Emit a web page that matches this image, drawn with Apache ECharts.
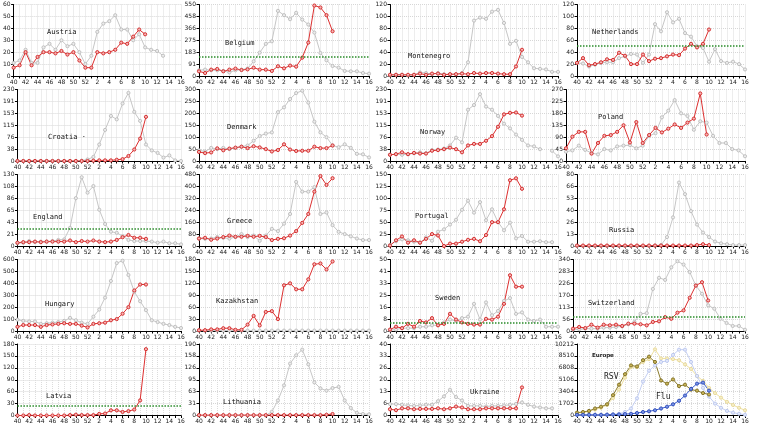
<!DOCTYPE html>
<html><head><meta charset="utf-8">
<script src="https://cdn.jsdelivr.net/npm/echarts@6/dist/echarts.min.js"></script>
<style>html,body{margin:0;padding:0;background:#fff}#c{width:760px;height:425px}</style>
</head><body><div id="c"></div>
<script>
const weeks = ['40','41','42','43','44','45','46','47','48','49','50','51','52','1','2','3','4','5','6','7','8','9','10','11','12','13','14','15','16'];

const austriaCur = [7,9,20,9,16,20,20,19,21,18,20,13,7, 7,20,19,20,22,28,27,33,39,35];
const austriaPrev = [11,13,22,11,11,24,27,22,30,25,27,20,10, 17,37,44,46,51,39,39,30,35,24,22,21,17];
const belgiumCur = [36,23,49,54,36,49,57,46,51,64,49,49,39, 75,59,80,72,141,257,542,527,468,344];
const belgiumPrev = [44,49,44,44,39,28,44,49,57,113,180,247,267, 501,468,437,486,434,396,334,177,121,77,64,39,36,36,23,18];
const montenegroCur = [2,2,2,2,2,4,2,4,4,2,3,3,4, 3,5,4,5,5,4,3,3,16,44];
const montenegroPrev = [1,2,2,1,2,6,5,3,5,3,3,3,5, 23,93,98,96,108,111,89,54,59,32,23,13,12,11,7,7];
const netherlandsCur = [22,30,18,20,23,28,27,39,34,20,20,36,25, 29,30,33,36,35,46,54,48,54,78];
const netherlandsPrev = [22,21,16,19,22,23,23,30,33,37,36,22,36, 87,75,107,90,96,72,66,50,47,24,45,25,22,24,20,11];
const croatiaCur = [0,0,0,0,0,0,0,0,0,0,0,0,0, 1,2,2,2,4,6,16,37,72,142];
const croatiaPrev = [0,0,0,0,0,0,0,0,0,0,0,1,5, 13,53,100,145,134,185,219,158,129,53,34,26,11,18,2,0];
const denmarkCur = [38,33,36,53,45,52,56,60,54,62,57,50,40, 46,70,48,42,43,43,60,54,54,65];
const denmarkPrev = [45,40,55,50,55,50,55,60,65,85,105,115,120, 205,225,260,285,295,245,165,120,100,65,58,70,55,30,28,15];
const norwayCur = [20,22,28,22,26,24,24,33,35,38,43,38,28, 50,55,55,65,80,110,150,155,156,146];
const norwayPrev = [20,22,20,22,25,28,25,35,37,40,50,75,60, 165,180,215,175,165,145,120,105,85,68,50,47,38,null,33,15];
const polandCur = [48,92,110,110,28,68,95,98,110,135,70,147,68, 98,125,108,122,138,125,145,160,255,100];
const polandPrev = [35,40,58,42,30,25,45,40,55,58,60,48,58, 95,105,165,190,230,180,170,118,150,145,95,68,68,45,40,18];
const englandCur = [6,7,7,8,7,8,8,8,8,10,7,9,8, 10,8,7,8,11,16,20,15,15,13];
const englandPrev = [5,6,9,7,8,8,9,11,12,33,87,125,97, 109,66,40,26,24,18,11,9,9,9,8,6,8,5,5,3];
const greeceCur = [50,55,42,50,60,70,62,62,68,62,68,60,40, 48,52,70,100,155,215,365,470,410,455];
const greecePrev = [50,48,50,60,55,50,60,80,60,70,35,70,115, 100,150,215,430,365,365,395,215,225,140,95,80,65,50,40,40];
const portugalCur = [1,12,20,7,12,7,15,25,22,0,5,5,9, 13,15,10,23,50,50,77,138,142,120];
const portugalPrev = [2,10,14,12,9,7,18,11,30,35,45,55,76, 95,70,92,54,77,50,33,49,16,21,9,9,10,8,8];
const russiaCur = [0.5,0.5,0.5,0.5,0.5,0.5,0.5,0.5,0.5,0.5,0.5,0.5,0.5, 0.5,0.5,0.5,0.5,0.5,0.5,0.5,1,2,1];
const russiaPrev = [0,0,0,0,0,0,0,0,0,0,0,0,0, 0.5,1,10,32,71,58,39,24,15,10,5,3,2,1,1,1];
const hungaryCur = [35,50,50,50,35,50,55,60,65,60,60,45,30, 60,65,70,90,100,145,200,340,390,390];
const hungaryPrev = [95,85,80,80,60,65,70,75,85,110,90,70,60, 120,180,280,420,570,590,470,330,250,175,90,75,60,50,35,25];
const kazakhstanCur = [2,2,4,4,7,7,3,3,16,38,14,48,50, 30,115,120,105,105,130,168,170,155,175];
const kazakhstanPrev = [1,1,1,1,1,1,1,1,1,1,1,1,1, 1,1,1,1,1,1,1,1,1,1,1,1,1,1,1,1];
const swedenCur = [1,3,2,5,3,7,6,9,4,5,12,8,6, 5,4.5,4.5,8.5,8,10,19,39,31,31];
const swedenPrev = [0.5,1,2,2,2,3,3,4,4,6,8,7,9, 10,19,8,20,11,14,21,23,12,13,8,7,8,3,3,3];
const switzerlandCur = [11,19,14,30,16,30,27,30,24,35,35,32,27, 43,46,66,58,87,98,158,216,232,145];
const switzerlandPrev = [6,8,11,11,11,16,16,19,22,32,43,82,85, 200,253,243,303,332,316,280,216,177,122,106,58,38,24,24,6];
const latviaCur = [0,0,1,0,0,0,0,0,0,1,2,1,1, 1,4,5,13,13,9,11,15,38,167];
const lithuaniaCur = [1,1,1,1,1,1,1,1,1,1,1,1,1, 1,1,1,1,1,1,1,1,2,4];
const lithuaniaPrev = [0,0,0,0,0,0,0,0,0,0,0,0,10, 40,80,138,160,175,136,88,72,66,73,76,40,20,7,4,3];
const ukraineCur = [3.5,3,4,4,3.5,3.7,3.7,3.7,4,3.5,4,5,4.5, 3.5,3.5,3.5,4,4,4,4,4,4,15.7];
const ukrainePrev = [6.4,6.4,6,5.6,5.4,5.6,6,6,8,10.7,14.4,10.3,8.4, 5.4,5.4,5.4,5,5.4,5.4,5.6,6,6.5,7.3,6,5,4.5,4,4];
const rsvCur = [400,500,650,1000,1250,1600,2900,4400,5900,7150,7000,7900,8400, 7650,5000,4550,5150,4200,4400,3700,3550,3200,3000];
const rsvPrev = [400,400,600,850,1100,1500,2500,3700,5400,6900,6900,7650,8050, 9450,8150,8150,8050,7900,7300,6650,5650,4950,3950,3200,2550,1950,1500,1100,750];
const fluCur = [100,100,100,100,100,120,150,150,200,250,350,500,600, 750,1000,1250,1600,2100,2850,3800,4550,4700,3550];
const fluPrev = [50,50,50,50,50,80,100,250,500,1000,2450,4850,6400, 7150,7650,7800,8650,9400,9400,7650,5650,3950,2700,1700,1100,650,400,250,100];

const countryNames = ['Austria','Belgium','Montenegro','Netherlands','Croatia','Denmark','Norway','Poland','England','Greece','Portugal','Russia','Hungary','Kazakhstan','Sweden','Switzerland','Latvia','Lithuania','Ukraine','Europe'];
const axisMax = [60,550,120,120, 230,300,230,270, 130,480,150,80, 600,180,50,340, 180,190,40,10212];
const thresholds = [null,146,null,51, null,null,null,null, 31,null,null,null, null,null,6,68, 24,null,null,null];
const curData = [austriaCur,belgiumCur,montenegroCur,netherlandsCur,croatiaCur,denmarkCur,norwayCur,polandCur,englandCur,greeceCur,portugalCur,russiaCur,hungaryCur,kazakhstanCur,swedenCur,switzerlandCur,latviaCur,lithuaniaCur,ukraineCur,null];
const prevData = [austriaPrev,belgiumPrev,montenegroPrev,netherlandsPrev,croatiaPrev,denmarkPrev,norwayPrev,polandPrev,englandPrev,greecePrev,portugalPrev,russiaPrev,hungaryPrev,kazakhstanPrev,swedenPrev,switzerlandPrev,null,lithuaniaPrev,ukrainePrev,null];

// layout
const colLeft = [13,199,390,577];
const colRight = [181,369,558,745];
const rowTop = [4.5,89.5,174.5,259.5,344];
const plotH = 71.5;
const leftOverride = {7:566, 15:573};
const namePos = [[47,29],[225,40],[408,53],[592,29],[48,134],[227,124],[420,129],[598,114],[33,214],[227,218],[415,213],[609,227],[45,301],[216,298],[435,295],[588,300],[46,393],[223,399],[470,389],[592,353]];

const mono = 'DejaVu Sans Mono';
const grids=[], xAxes=[], yAxes=[], series=[], titles=[];
for (let i=0;i<20;i++){
  const r=Math.floor(i/4), c=i%4;
  const L = leftOverride[i] !== undefined ? leftOverride[i] : colLeft[c];
  grids.push({left:L, top:rowTop[r], width:colRight[c]-L, height:plotH});
  xAxes.push({gridIndex:i, type:'category', data:weeks, boundaryGap:false,
    axisLine:{lineStyle:{color:'#000',width:1}},
    axisTick:{show:true, interval:0, length:2.5, lineStyle:{color:'#000'}},
    axisLabel:{interval:1, fontSize:6, margin:3, color:'#222', fontFamily:'DejaVu Sans'},
    splitLine:{show:true, interval:0, lineStyle:{color:'#dcdcdc', type:'dotted', width:1}}});
  const M = axisMax[i];
  yAxes.push({gridIndex:i, type:'value', min:0, max:M, interval:M/6,
    axisLine:{show:true, lineStyle:{color:'#000',width:1}},
    axisTick:{show:true, length:2.5, lineStyle:{color:'#000'}},
    axisLabel:{fontSize:6, margin:3, color:'#222', fontFamily:'DejaVu Sans', formatter:v=>String(Math.floor(v+0.001))},
    splitLine:{show:true, lineStyle:{color:'#d6d6d6', type:'dotted', width:1}}});
  const nm = countryNames[i] + (i===4 ? ' \u00b7' : '');
  titles.push({text:nm, left:namePos[i][0], top:namePos[i][1], padding:0,
    textStyle: i===19 ? {fontSize:5.5, fontWeight:'bold', fontFamily:'DejaVu Sans', color:'#222'} : {fontSize:7, fontWeight:'normal', fontFamily:mono, color:'#111'}});
  const base = {type:'line', xAxisIndex:i, yAxisIndex:i, symbol:'circle', symbolSize:3.2, showSymbol:true, silent:true, animation:false, connectNulls:false};
  if (i<19){
    if (prevData[i]) series.push(Object.assign({}, base, {data:prevData[i],
      lineStyle:{color:'#c6c6c6', width:1}, itemStyle:{color:'#ececec', borderColor:'#b6b6b6', borderWidth:0.8}}));
    const s = Object.assign({}, base, {data:curData[i], z:3,
      lineStyle:{color:'#dc3030', width:1}, itemStyle:{color:'#f6b4b4', borderColor:'#d02424', borderWidth:0.9}});
    if (thresholds[i]!==null) s.markLine = {silent:true, symbol:'none', label:{show:false}, animation:false,
      lineStyle:{color:'#2a8c2a', type:'dotted', width:1.5}, data:[{yAxis:thresholds[i]}]};
    series.push(s);
  } else {
    series.push(Object.assign({}, base, {data:rsvPrev, lineStyle:{color:'#eee0a0', width:1}, itemStyle:{color:'#f6eec8', borderColor:'#e6d690', borderWidth:0.8}}));
    series.push(Object.assign({}, base, {data:fluPrev, lineStyle:{color:'#c4cff2', width:1}, itemStyle:{color:'#e4e9fa', borderColor:'#b4c2ee', borderWidth:0.8}}));
    series.push(Object.assign({}, base, {data:rsvCur, z:3, lineStyle:{color:'#8a7a2c', width:1}, itemStyle:{color:'#c9b45a', borderColor:'#7d6d20', borderWidth:0.9}}));
    series.push(Object.assign({}, base, {data:fluCur, z:3, lineStyle:{color:'#3a5ccc', width:1}, itemStyle:{color:'#7a94e6', borderColor:'#2a48b8', borderWidth:0.9}}));
  }
}
titles.push({text:'RSV', left:604, top:373, padding:0, textStyle:{fontSize:8, fontWeight:'normal', fontFamily:mono, color:'#222'}});
titles.push({text:'Flu', left:656, top:393, padding:0, textStyle:{fontSize:8, fontWeight:'normal', fontFamily:mono, color:'#222'}});

const chart = echarts.init(document.getElementById('c'), null, {renderer:'canvas'});
chart.setOption({backgroundColor:'#fff', animation:false, title:titles, grid:grids, xAxis:xAxes, yAxis:yAxes, series:series});
</script></body></html>
